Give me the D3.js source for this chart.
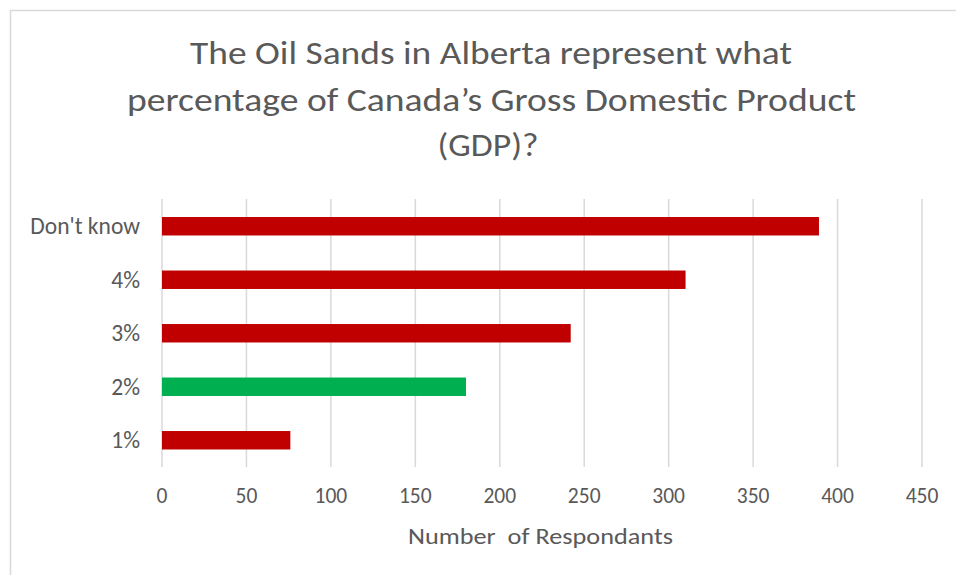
<!DOCTYPE html>
<html>
<head>
<meta charset="utf-8">
<script src="https://cdn.jsdelivr.net/npm/d3@7"></script>
<style>
  html, body { margin: 0; padding: 0; background: #fff; }
  svg { display: block; }
  text { font-family: Carlito, "Liberation Sans Narrow", "Open Sans", "Liberation Sans", sans-serif; white-space: pre; }
</style>
</head>
<body>
<svg id="chart" width="956" height="575"></svg>
<script>
const titleLines = ["The Oil Sands in Alberta represent what", "percentage of Canada\u2019s Gross Domestic Product", "(GDP)?"];
const categories = ["Don't know", "4%", "3%", "2%", "1%"];
const values = [389, 310, 242, 180, 76];
const barColors = ["#C00000", "#C00000", "#C00000", "#00B050", "#C00000"];
const xTicks = [0, 50, 100, 150, 200, 250, 300, 350, 400, 450];
const xAxisTitle = "Number  of Respondants";

const svg = d3.select("#chart");
const W = 956, H = 575;
svg.append("rect").attr("width", W).attr("height", H).attr("fill", "#fff");

// chart border (top and left visible)
svg.append("path").attr("d", "M10.5,575 V10.5 H956").attr("fill", "none")
  .attr("stroke", "#d9d9d9").attr("stroke-width", 1.5);

const x = d3.scaleLinear().domain([0, 450]).range([162, 922]);
const y = d3.scaleBand().domain(categories).range([199.5, 467]).paddingInner(0.655).paddingOuter(0.3275);

// gridlines
svg.append("g").selectAll("line").data(xTicks).join("line")
  .attr("x1", d => x(d)).attr("x2", d => x(d))
  .attr("y1", 199).attr("y2", 467)
  .attr("stroke", "#d9d9d9").attr("stroke-width", 1.5);

// bars
svg.append("g").selectAll("rect").data(categories).join("rect")
  .attr("x", x(0))
  .attr("y", d => y(d))
  .attr("width", (d, i) => x(values[i]) - x(0))
  .attr("height", y.bandwidth())
  .attr("fill", (d, i) => barColors[i]);

// category labels
svg.append("g").selectAll("text").data(categories).join("text")
  .attr("x", 140).attr("y", d => y(d) + y.bandwidth() / 2)
  .attr("dy", "0.35em").attr("text-anchor", "end")
  .attr("font-size", 23.5).attr("fill", "#595959")
  .text(d => d);

// x tick labels
svg.append("g").selectAll("text").data(xTicks).join("text")
  .attr("x", d => x(d)).attr("y", 503)
  .attr("text-anchor", "middle")
  .attr("font-size", 21.5).attr("fill", "#595959")
  .text(d => d);

// axis title
svg.append("text").attr("x", 540.5).attr("y", 544)
  .attr("text-anchor", "middle").attr("font-size", 22.5).attr("fill", "#595959")
  .attr("textLength", 265).attr("lengthAdjust", "spacingAndGlyphs")
  .text(xAxisTitle);

// title
const titleBase = [64, 111, 156];
const titleX = [491, 491.5, 488];
const titleWidths = [602, 729, 101];
svg.append("g").selectAll("text").data(titleLines).join("text")
  .attr("x", (d, i) => titleX[i]).attr("y", (d, i) => titleBase[i])
  .attr("text-anchor", "middle").attr("font-size", 33).attr("fill", "#595959")
  .attr("textLength", (d, i) => titleWidths[i]).attr("lengthAdjust", "spacingAndGlyphs")
  .text(d => d);
</script>
</body>
</html>
